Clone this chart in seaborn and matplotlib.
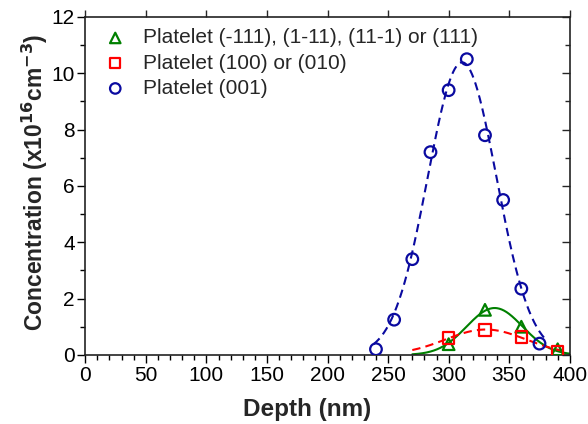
import numpy as np
import pandas as pd
import matplotlib
matplotlib.use("Agg")
import matplotlib.pyplot as plt
import seaborn as sns
from matplotlib.ticker import MultipleLocator

# data
depth_111 = [300, 330, 360, 390]
conc_111 = [0.38, 1.6, 1.0, 0.2]
depth_100 = [300, 330, 360, 390]
conc_100 = [0.6, 0.88, 0.64, 0.1]
depth_001 = [240, 255, 270, 285, 300, 315, 330, 345, 360, 375]
conc_001 = [0.2, 1.25, 3.4, 7.2, 9.4, 10.5, 7.8, 5.5, 2.35, 0.4]

labels = ["Platelet (-111), (1-11), (11-1) or (111)",
          "Platelet (100) or (010)",
          "Platelet (001)"]
colors = ["#008000", "#FF0000", "#0A0AA0"]
markers = ["^", "s", "o"]
fit_ranges = [(270, 400), (270, 395), (238, 380)]
fit_styles = ["-", (0, (4, 2.5)), (0, (4, 2.5))]


def gauss_fit(x, y, lo, hi):
    # gaussian fit of the points (quadratic in log space, weighted)
    x = np.asarray(x, float)
    y = np.asarray(y, float)
    p = np.polyfit(x, np.log(y), 2, w=y)
    xs = np.linspace(lo, hi, 200)
    return xs, np.exp(np.polyval(p, xs))


sns.set_theme(style="ticks")
plt.rcParams["font.family"] = ["Liberation Sans", "DejaVu Sans"]

fig, ax = plt.subplots(figsize=(5.88, 4.24), dpi=100)
fig.subplots_adjust(left=0.145, right=0.969, top=0.96, bottom=0.163)

series = [(depth_111, conc_111), (depth_100, conc_100), (depth_001, conc_001)]
for (x, y), lab, c, m, rng, ls in zip(series, labels, colors, markers, fit_ranges, fit_styles):
    xs, ys = gauss_fit(x, y, *rng)
    sns.lineplot(x=xs, y=ys, ax=ax, color=c, linestyle=ls, linewidth=1.5, legend=False)
    df = pd.DataFrame({"depth": x, "conc": y})
    sns.scatterplot(data=df, x="depth", y="conc", ax=ax, marker=m, s=70,
                    facecolor="none", edgecolor=c, linewidth=1.6, label=lab, zorder=3)

ax.set_xlim(0, 400)
ax.set_ylim(0, 12)
ax.xaxis.set_major_locator(MultipleLocator(50))
ax.xaxis.set_minor_locator(MultipleLocator(10))
ax.yaxis.set_major_locator(MultipleLocator(2))
ax.yaxis.set_minor_locator(MultipleLocator(1))
ax.tick_params(which="both", direction="out", labelsize=15, colors="black", width=1)
ax.tick_params(which="major", length=6, pad=2)
ax.tick_params(axis="y", which="major", pad=1.5)
ax.tick_params(which="minor", length=3.5)

for sp in ax.spines.values():
    sp.set_visible(True)
    sp.set_color("#222222")
    sp.set_linewidth(1.2)

top = ax.secondary_xaxis("top")
top.xaxis.set_major_locator(MultipleLocator(50))
top.tick_params(direction="out", length=5, labeltop=False, width=1)
top.spines["top"].set_visible(False)
right = ax.secondary_yaxis("right")
right.yaxis.set_major_locator(MultipleLocator(2))
right.yaxis.set_minor_locator(MultipleLocator(1))
right.tick_params(which="both", direction="in", labelright=False, width=1)
right.tick_params(which="major", length=6)
right.tick_params(which="minor", length=3.5)
right.spines["right"].set_visible(False)

ax.set_xlabel("Depth (nm)", fontsize=17.5, fontweight="bold")
ax.xaxis.set_label_coords(0.458, -0.128)
ax.set_ylabel("Concentration (x10$^{\\mathbf{16}}$cm$^{\\mathbf{-3}}$)", fontsize=16.5,
              fontweight="bold")
ax.yaxis.set_label_coords(-0.072, 0.51)

leg = ax.legend(loc="upper left", frameon=False, fontsize=15, handlelength=1.78,
                handletextpad=0.42, borderaxespad=0.15, labelspacing=0.3,
                borderpad=0.4, markerscale=0.9)

fig.savefig("out.png", dpi=100)
